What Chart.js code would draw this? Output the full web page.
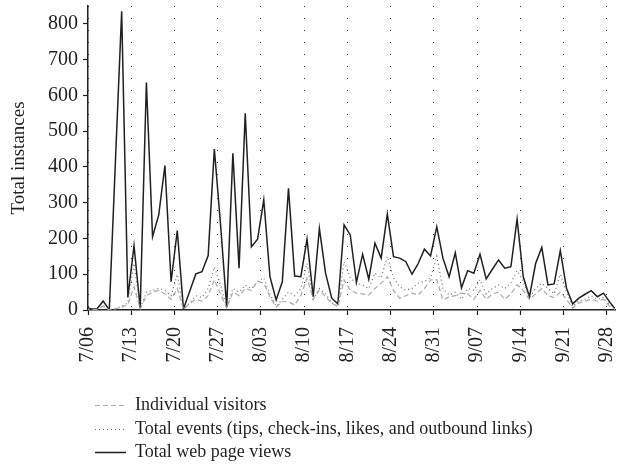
<!DOCTYPE html>
<html>
<head>
<meta charset="utf-8">
<script src="https://cdn.jsdelivr.net/npm/chart.js@4.4.1/dist/chart.umd.min.js"></script>
<style>
  html, body { margin: 0; padding: 0; background: #fff; }
  #wrap { width: 617px; height: 470px; position: relative; }
</style>
</head>
<body>
<div id="wrap"><canvas id="c" width="617" height="470"></canvas></div>
<script>
// Daily series, first value is 7/05, last is 9/29
const pageViews = [10,3,3,25,0,420,835,35,180,5,636,205,266,404,79,222,3,52,101,107,152,450,240,8,438,117,550,177,198,308,93,28,79,340,95,93,198,37,228,103,33,17,238,210,77,156,86,187,145,268,149,145,135,100,130,170,151,233,145,93,160,62,110,103,156,87,114,140,117,121,254,93,37,130,175,70,73,166,61,17,33,44,54,37,47,22,0];
const totalEvents = [5,2,2,10,0,5,10,20,130,5,50,55,60,55,40,100,3,20,40,35,60,120,70,5,60,50,70,60,80,90,45,10,30,50,40,60,130,30,60,45,20,10,135,90,75,70,60,103,90,150,90,65,55,60,75,80,90,150,60,42,50,30,60,55,85,45,60,70,60,75,110,80,35,60,75,60,45,100,50,10,25,30,40,30,35,15,0];
const visitors = [3,1,1,12,0,3,8,15,65,3,40,50,55,45,30,60,2,18,30,25,40,84,45,5,50,40,60,55,80,75,37,9,23,23,14,40,89,30,56,37,19,9,84,56,47,45,42,60,75,93,55,33,40,47,42,60,84,85,28,37,40,47,45,30,55,30,45,50,30,45,70,55,30,45,60,40,35,50,30,5,20,25,30,25,30,10,0];
const tickLabels = ['7/06','7/13','7/20','7/27','8/03','8/10','8/17','8/24','8/31','9/07','9/14','9/21','9/28'];
const yTicks = [0,100,200,300,400,500,600,700,800];
const seriesNames = ['Individual visitors','Total events (tips, check-ins, likes, and outbound links)','Total web page views'];

const FONT = "'Liberation Serif', 'DejaVu Serif', serif";
const toPts = arr => arr.map((v, k) => ({ x: k - 1 + 0.45, y: v }));

const legendPlugin = {
  id: 'customLegend',
  afterDraw(chart) {
    const ctx = chart.ctx;
    const items = chart.data.datasets;
    const ys = [405, 429, 452];
    ctx.save();
    items.forEach((ds, i) => {
      const y = ys[i];
      ctx.beginPath();
      ctx.strokeStyle = ds.borderColor;
      ctx.lineWidth = ds.borderWidth;
      ctx.setLineDash(ds.borderDash || []);
      ctx.moveTo(95, y + 0.5);
      ctx.lineTo(126, y + 0.5);
      ctx.stroke();
      ctx.setLineDash([]);
      ctx.fillStyle = '#231f20';
      ctx.font = "18px " + FONT;
      ctx.textBaseline = 'middle';
      ctx.textAlign = 'left';
      ctx.fillText(ds.label, 135, y);
    });
    ctx.restore();
  }
};

new Chart(document.getElementById('c'), {
  type: 'line',
  data: {
    datasets: [
      { label: seriesNames[0], data: toPts(visitors), borderColor: '#a7a9ac', borderWidth: 1.2, borderDash: [5, 3], pointRadius: 0, tension: 0, fill: false },
      { label: seriesNames[1], data: toPts(totalEvents), borderColor: '#6d6e71', borderWidth: 1.2, borderDash: [1, 3], pointRadius: 0, tension: 0, fill: false },
      { label: seriesNames[2], data: toPts(pageViews), borderColor: '#231f20', borderWidth: 1.5, pointRadius: 0, tension: 0, fill: false }
    ]
  },
  options: {
    responsive: false,
    animation: false,
    layout: { padding: { left: 0, right: 2, top: 6, bottom: 100 } },
    plugins: { legend: { display: false }, tooltip: { enabled: false } },
    scales: {
      x: {
        type: 'linear',
        min: 0,
        max: 85.3,
        afterBuildTicks: s => { s.ticks = tickLabels.map((t, i) => ({ value: i * 7 })); },
        afterFit: s => { s.height = 60; s.paddingLeft = 0; s.paddingRight = 0; },
        ticks: {
          callback: (v, i) => tickLabels[i],
          minRotation: 90, maxRotation: 90,
          autoSkip: false,
          color: '#231f20',
          font: { family: FONT, size: 20 },
          padding: 12
        },
        grid: {
          drawOnChartArea: true,
          color: '#333',
          lineWidth: 1,
          tickLength: 5,
          tickColor: '#231f20',
          tickWidth: 1.2
        },
        border: { display: true, color: '#231f20', width: 1.5, dash: [1, 11] }
      },
      y: {
        min: 0,
        max: 850,
        afterBuildTicks: s => { s.ticks = yTicks.map(v => ({ value: v })); },
        afterFit: s => { s.width = 88; s.paddingTop = 0; s.paddingBottom = 0; },
        ticks: {
          color: '#231f20',
          font: { family: FONT, size: 20 },
          padding: 5
        },
        grid: {
          drawOnChartArea: false,
          tickLength: 5,
          tickColor: '#231f20',
          tickWidth: 1.2
        },
        border: { display: true, color: '#231f20', width: 1.5 },
        title: {
          display: true,
          text: 'Total instances',
          color: '#231f20',
          font: { family: FONT, size: 19 },
          padding: { top: 8, bottom: 0 }
        }
      }
    }
  },
  plugins: [legendPlugin]
});
</script>
</body>
</html>
